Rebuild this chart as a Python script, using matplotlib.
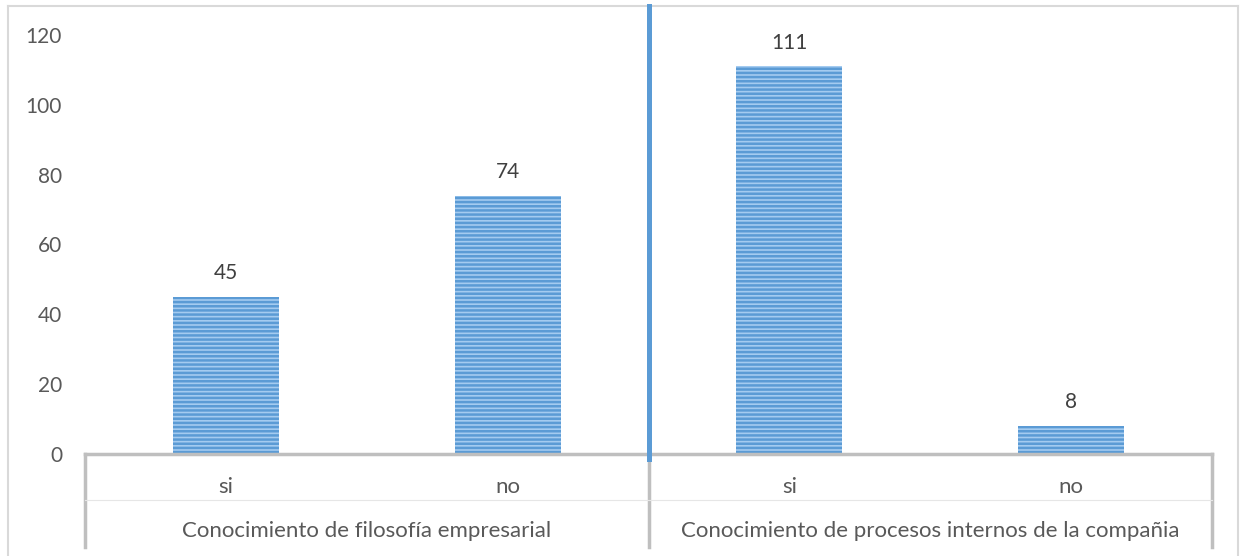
import matplotlib
matplotlib.use("Agg")
import matplotlib.pyplot as plt
from matplotlib.lines import Line2D
from matplotlib.transforms import blended_transform_factory

plt.rcParams['font.family'] = ['Lato', 'DejaVu Sans']
plt.rcParams['hatch.linewidth'] = 1.8

groups = ["Conocimiento de filosofía empresarial",
          "Conocimiento de procesos internos de la compañia"]
sub_labels = ["si", "no", "si", "no"]
values = [45, 74, 111, 8]
yticks = [0, 20, 40, 60, 80, 100, 120]

W, H = 1243, 556
fig = plt.figure(figsize=(W / 100, H / 100), dpi=100)
ax = fig.add_axes([85 / W, (H - 454) / H, 1127 / W, 419 / H])

x = list(range(len(values)))
bars = ax.bar(x, values, width=0.377, color='#A4CBF0', edgecolor='#5B9BD5',
              linewidth=0, hatch='----', zorder=2)

for xi, v in zip(x, values):
    ax.annotate(str(v), (xi, v), xytext=(0, 10), textcoords='offset points',
                ha='center', va='bottom', fontsize=15, color='#404040')

ax.set_xlim(-0.5, 3.5)
ax.set_ylim(0, 120)
ax.set_yticks(yticks)
ax.set_yticklabels([str(t) for t in yticks], fontsize=15, color='#595959')
ax.tick_params(axis='y', length=0, pad=16.5)
ax.set_xticks([])
for s in ['top', 'right', 'left']:
    ax.spines[s].set_visible(False)
ax.spines['bottom'].set_color('#BFBFBF')
ax.spines['bottom'].set_linewidth(2.5)

# category labels below axis
tr = blended_transform_factory(ax.transData, fig.transFigure)
for xi, lab in zip(x, sub_labels):
    fig.text(xi, (H - 487) / H, lab, transform=tr, ha='center', va='center',
             fontsize=16, color='#595959')
for gi, g in enumerate(groups):
    fig.text(gi * 2 + 0.5, (H - 531) / H, g, transform=tr, ha='center',
             va='center', fontsize=16, color='#595959')

# group separators
for xs in [-0.5, 1.5, 3.5]:
    fig.add_artist(Line2D([xs, xs], [(H - 454) / H, (H - 547) / H], transform=tr,
                          color='#BFBFBF', lw=2.5))
fig.add_artist(Line2D([-0.5, 3.5], [(H - 500) / H, (H - 500) / H], transform=tr,
                      color='#E6E6E6', lw=0.8))

# blue divider
fig.add_artist(Line2D([1.5, 1.5], [(H - 6) / H, (H - 459) / H], transform=tr,
                      color='#5B9BD5', lw=3.6, zorder=5))

# chart frame
fc = '#D9D9D9'
fig.add_artist(Line2D([8 / W, 8 / W], [0, (H - 6) / H], color=fc, lw=1.5))
fig.add_artist(Line2D([8 / W, 1238 / W], [(H - 6) / H, (H - 6) / H], color=fc, lw=1.5))
fig.add_artist(Line2D([1238 / W, 1238 / W], [0, (H - 6) / H], color=fc, lw=1.5))

fig.savefig('out.png', dpi=100)
